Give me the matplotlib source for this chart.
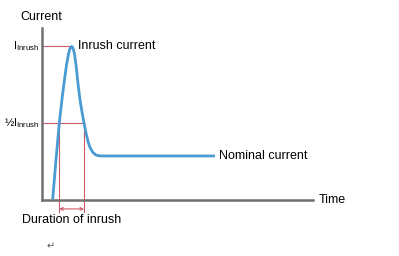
import matplotlib
matplotlib.use("Agg")
import matplotlib.pyplot as plt

plt.rcParams['font.family'] = ['Liberation Sans', 'DejaVu Sans']
plt.rcParams['mathtext.fontset'] = 'custom'
plt.rcParams['mathtext.rm'] = 'Liberation Sans'
plt.rcParams['mathtext.it'] = 'Liberation Sans'

# Curve data (time in arbitrary units, current relative to I_inrush)
time = [0.395, 0.517, 0.638, 0.738, 0.830, 0.904, 0.978, 1.033, 1.096,
        1.144, 1.199, 1.255, 1.310, 1.365, 1.421, 1.476, 1.550, 1.624,
        1.697, 1.771, 1.882, 1.993, 2.140, 6.384]
current = [0.006, 0.262, 0.500, 0.655, 0.782, 0.877, 0.948, 0.984, 0.997,
           0.987, 0.948, 0.877, 0.786, 0.701, 0.630, 0.571, 0.500, 0.435,
           0.380, 0.341, 0.308, 0.292, 0.286, 0.286]

i_inrush = 1.0
i_half = 0.5
t_half_rise = 0.638
t_half_fall = 1.550
t_peak = 1.096
i_nominal = 0.286

fig = plt.figure(figsize=(3.99, 2.56), dpi=100)
ax = fig.add_axes([42/399, 56/256, 271/399, 172/256])
ax.set_xlim(0, 10)
ax.set_ylim(0, 172/154)
for s in ['top', 'right']:
    ax.spines[s].set_visible(False)
for s in ['left', 'bottom']:
    ax.spines[s].set_color('#707070')
    ax.spines[s].set_linewidth(1.8)
ax.set_xticks([])
ax.set_yticks([])
ax.patch.set_alpha(0)

red = '#cc5a6a'
ax.plot([0, t_peak], [i_inrush, i_inrush], color=red, lw=0.8, clip_on=False)
ax.plot([0, t_half_fall], [i_half, i_half], color=red, lw=0.8, clip_on=False)
ax.plot([t_half_rise, t_half_rise], [i_half, -0.08], color=red, lw=0.8, clip_on=False)
ax.plot([t_half_fall, t_half_fall], [i_half, -0.08], color=red, lw=0.8, clip_on=False)
ax.annotate('', xy=(t_half_rise, -0.058), xytext=(t_half_fall, -0.058),
            arrowprops=dict(arrowstyle='<->', color=red, lw=0.8,
                            shrinkA=0, shrinkB=0, mutation_scale=5),
            annotation_clip=False)

ax.plot(time, current, color='#4a9ad4', lw=2.0, solid_capstyle='butt',
        solid_joinstyle='round', clip_on=False)

fs = 9
ax.text(-0.78, 1.188, 'Current', fontsize=fs, ha='left', va='center', clip_on=False)
ax.text(1.33, i_inrush, 'Inrush current', fontsize=fs, ha='left', va='center')
ax.text(6.53, i_nominal, 'Nominal current', fontsize=fs, ha='left', va='center')
ax.text(10.2, 0, 'Time', fontsize=fs, ha='left', va='center', clip_on=False)
ax.text(-0.75, -0.13, 'Duration of inrush', fontsize=fs, ha='left', va='center', clip_on=False)
ax.text(-0.1, i_inrush, r'$\mathrm{I}_{\mathrm{Inrush}}$', fontsize=8, ha='right', va='center', clip_on=False)
ax.text(-0.1, i_half, r'½$\mathrm{I}_{\mathrm{Inrush}}$', fontsize=8, ha='right', va='center', clip_on=False)
ax.text(0.15, -0.30, '↵', fontsize=7, color='#555555', ha='left', va='center', clip_on=False)

fig.savefig('out.png', dpi=100)
